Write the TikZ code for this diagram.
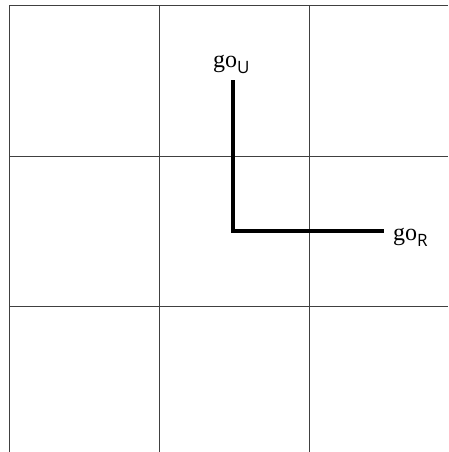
\documentclass[tikz,border=0pt]{standalone}
\usepackage{fontspec}
\setmainfont{Liberation Serif}
\newfontfamily\subfont{Open Sans}
\begin{document}
\begin{tikzpicture}[x=1pt,y=-1pt,
  gridline/.style={draw=black!75,line width=1pt},
  thickpath/.style={draw=black,line width=4pt},
  lbl/.style={anchor=base west,inner sep=0pt,font=\fontsize{24}{28}\selectfont}]
\useasboundingbox (0,0) rectangle (448,452);
\fill[white] (0,0) rectangle (448,452);
% grid
\foreach \x in {9,159,309} \draw[gridline] (\x,6) -- (\x,452);
\foreach \y in {6,156,306} \draw[gridline] (9,\y) -- (448,\y);
% path
\coordinate (top) at (233,80);
\coordinate (corner) at (233,230.5);
\coordinate (right) at (384,230.5);
\draw[thickpath] (top) -- ([yshift=2pt]corner) ;
\draw[thickpath] ([xshift=-2pt]corner) -- (right);
% labels
\node[lbl] (goU) at (213,67) {go{\subfont\fontsize{17}{20}\selectfont\raisebox{-6pt}{U}}};
\node[lbl] (goR) at (393,240) {go{\subfont\fontsize{17}{20}\selectfont\raisebox{-6pt}{R}}};
\end{tikzpicture}
\end{document}
